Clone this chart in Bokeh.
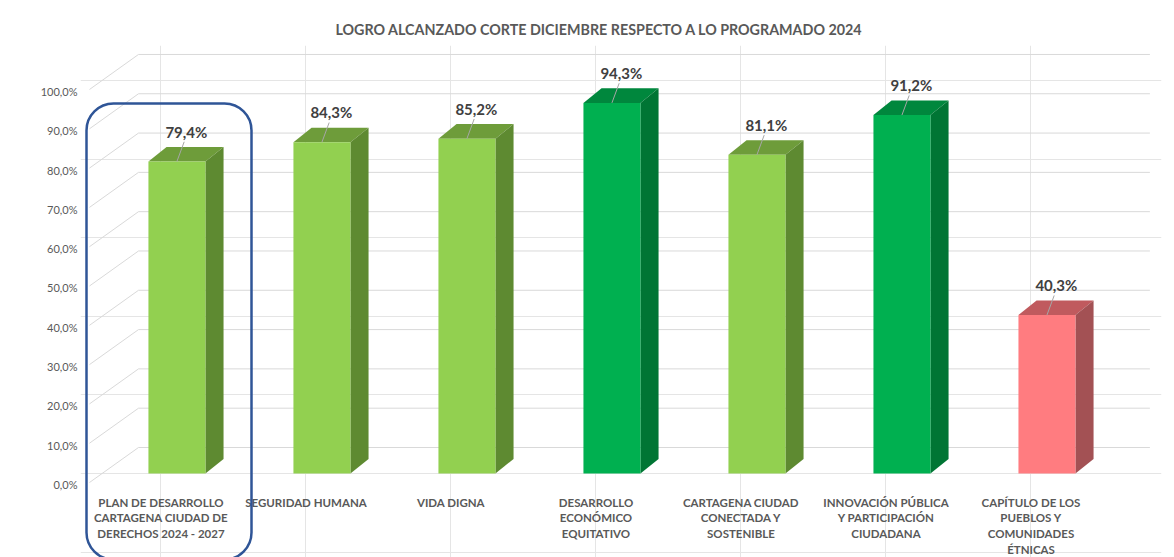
import numpy as np
from bokeh.plotting import figure
from bokeh.models import Range1d, LinearAxis, FixedTicker, BoxAnnotation, ColumnDataSource
from bokeh.core.properties import value
from bokeh.embed import file_html
from bokeh.resources import INLINE

# ---------------- data ----------------
title_text = "LOGRO ALCANZADO  CORTE DICIEMBRE RESPECTO A LO PROGRAMADO 2024"
categories = [
    "PLAN DE DESARROLLO\nCARTAGENA CIUDAD DE\nDERECHOS 2024 - 2027",
    "SEGURIDAD HUMANA",
    "VIDA DIGNA",
    "DESARROLLO\nECONÓMICO\nEQUITATIVO",
    "CARTAGENA CIUDAD\nCONECTADA Y\nSOSTENIBLE",
    "INNOVACIÓN PÚBLICA\nY PARTICIPACIÓN\nCIUDADANA",
    "CAPÍTULO DE LOS\nPUEBLOS Y\nCOMUNIDADES\nÉTNICAS",
]
values = [79.4, 84.3, 85.2, 94.3, 81.1, 91.2, 40.3]
y_ticks = [0, 10, 20, 30, 40, 50, 60, 70, 80, 90, 100]

# ---------------- styles ----------------
front_colors = ["#92D050", "#92D050", "#92D050", "#00B050", "#92D050", "#00B050", "#FF7C80"]
top_colors = ["#6E9C3A", "#6E9C3A", "#6E9C3A", "#00873D", "#6E9C3A", "#00873D", "#C05A5E"]
side_colors = ["#5E8A31", "#5E8A31", "#5E8A31", "#007534", "#5E8A31", "#007534", "#A35154"]
TXT = "#595959"
FONT = "Lato"

# geometry (data units): 145 px per category, 3.93 px per percent
BAR_SHIFT = 0.11
BAR_W = 0.393
DX, DY = 0.125, 3.7           # top/side face depth
BACK_OFF = 6.62               # back-wall grid offset
FRONT_OFF = -2.29
GRID_X0, GRID_X1 = -0.155, 6.82
DIAG_X0 = -0.493
X0, X1 = -0.555, 6.9
Y0, Y1 = -21.37, 108.9
AXIS_SHIFT = 2.8              # tick labels sit on the front edge of the floor
LABEL_Y = -5.6                # category labels top

W, H = 1174, 557
p = figure(width=W, height=H, output_backend="svg", toolbar_location=None,
           x_range=Range1d(X0, X1), y_range=Range1d(Y0, Y1),
           x_axis_location=None, y_axis_location=None,
           min_border_left=80, min_border_right=13, min_border_top=45, min_border_bottom=0)
p.outline_line_color = None
p.background_fill_color = "white"
p.border_fill_color = "white"

# y axis on shifted range
p.extra_y_ranges = {"ax": Range1d(Y0 + AXIS_SHIFT, Y1 + AXIS_SHIFT)}
yax = LinearAxis(y_range_name="ax")
yax.ticker = FixedTicker(ticks=y_ticks)
yax.major_label_overrides = {t: f"{t:.1f}".replace(".", ",") + "%" for t in y_ticks}
yax.axis_line_color = None
yax.major_tick_line_color = None
yax.minor_tick_line_color = None
yax.major_tick_out = 0
yax.major_tick_in = 0
yax.major_label_standoff = 3
yax.major_label_text_font = FONT
yax.major_label_text_font_size = "11px"
yax.major_label_text_color = TXT
p.add_layout(yax, "left")

xs = np.arange(len(categories))

# back-wall grid + side wall diagonals
yt = np.array(y_ticks, dtype=float)
n = len(yt)
p.segment(x0=np.full(n, GRID_X0), y0=yt + BACK_OFF, x1=np.full(n, GRID_X1), y1=yt + BACK_OFF,
          line_color="#D9D9D9", line_width=1)
p.segment(x0=np.full(n, DIAG_X0), y0=yt + FRONT_OFF, x1=np.full(n, GRID_X0), y1=yt + BACK_OFF,
          line_color="#D9D9D9", line_width=1)

# 3D bars
v = np.array(values)
c = xs + BAR_SHIFT
l = c - BAR_W / 2
r = c + BAR_W / 2
top_x = [[a, b, b + DX, a + DX] for a, b in zip(l, r)]
top_y = [[t, t, t + DY, t + DY] for t in v]
side_x = [[b, b + DX, b + DX, b] for b in r]
side_y = [[0, DY, t + DY, t] for t in v]
p.patches(top_x, top_y, fill_color=top_colors, line_color=None)
p.patches(side_x, side_y, fill_color=side_colors, line_color=None)
p.vbar(x=c, width=BAR_W, top=v, bottom=0, fill_color=front_colors, line_color=None)

# leader lines and data labels
p.segment(x0=c, y0=v, x1=c + 0.05, y1=v + 5.0, line_color="#A6A6A6", line_width=1)
labels = [f"{x:.1f}".replace(".", ",") + "%" for x in values]
src = ColumnDataSource(dict(x=c + 0.065, y=v + 7.6, t=labels))
p.text(x="x", y="y", text="t", source=src, text_align="center", text_baseline="middle",
       text_font=value(FONT), text_font_style="bold", text_font_size="15px", text_color="#404040")

# category labels
csrc = ColumnDataSource(dict(x=xs, y=np.full(len(xs), LABEL_Y), t=categories))
p.text(x="x", y="y", text="t", source=csrc, text_align="center", text_baseline="top",
       text_font=value(FONT), text_font_style="bold", text_font_size="11.5px",
       text_color=TXT, text_line_height=1.22)

# title
p.title.text = title_text
p.title.align = "left"
p.title.offset = 255
p.title.text_font = FONT
p.title.text_font_size = "14.3px"
p.title.text_font_style = "bold"
p.title.text_color = TXT
p.title.standoff = 15

# highlight box around the first category (canvas units)
p.add_layout(BoxAnnotation(left=86, right=251, top=103, bottom=559,
                           left_units="canvas", right_units="canvas",
                           top_units="canvas", bottom_units="canvas",
                           fill_alpha=0, line_color="#2F5597", line_alpha=1,
                           line_width=2.5, border_radius=27))

open("out.html", "w").write(file_html(p, INLINE))
